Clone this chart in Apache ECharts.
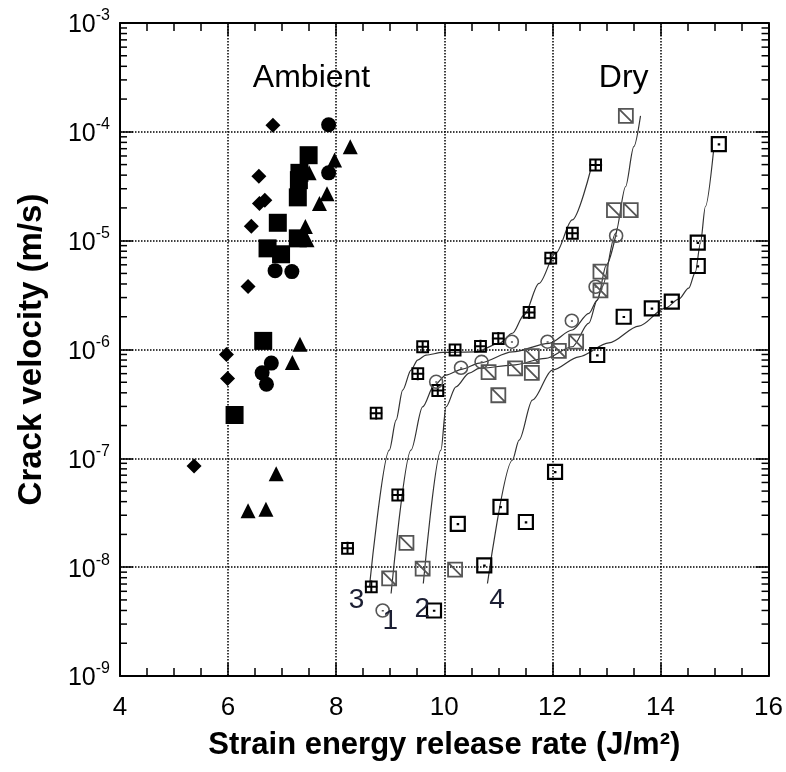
<!DOCTYPE html>
<html><head><meta charset="utf-8">
<script src="https://cdn.jsdelivr.net/npm/echarts@6/dist/echarts.min.js"></script>
<style>html,body{margin:0;padding:0;background:#fff}#c{width:786px;height:772px}</style>
</head><body><div id="c"></div>
<script>
// ---------- data (x: strain energy release rate J/m^2, y: crack velocity m/s) ----------
const ambientDiamonds = [[6.83,1.15e-4],[6.57,3.9e-5],[6.58,2.2e-5],[6.68,2.35e-5],[6.43,1.36e-5],[6.37,3.8e-6],[5.97,9.0e-7],[5.99,5.4e-7],[5.37,8.5e-8]];
const ambientSquares = [[7.49,6.1e-5],[7.32,4.2e-5],[7.31,3.6e-5],[7.29,2.5e-5],[6.92,1.46e-5],[7.29,1.05e-5],[6.73,8.5e-6],[6.98,7.5e-6],[6.65,1.2e-6],[6.12,2.5e-7]];
const ambientCircles = [[7.86,1.16e-4],[7.86,4.2e-5],[6.87,5.3e-6],[7.18,5.2e-6],[6.80,7.5e-7],[6.63,6.1e-7],[6.71,4.8e-7]];
const ambientTriangles = [[8.26,7.3e-5],[7.97,5.5e-5],[7.83,2.7e-5],[7.69,2.2e-5],[7.43,1.35e-5],[7.46,1.02e-5],[7.50,4.2e-5],[7.33,1.12e-6],[7.19,7.6e-7],[6.89,7.2e-8],[6.37,3.3e-8],[6.70,3.4e-8]];

const dry3Points = [[8.21,1.49e-8],[8.65,6.6e-9],[9.14,4.6e-8],[8.74,2.6e-7],[9.51,6.0e-7],[9.60,1.06e-6],[9.88,4.2e-7],[10.20,9.9e-7],[10.67,1.07e-6],[11.00,1.26e-6],[11.57,2.19e-6],[11.97,6.9e-6],[12.37,1.17e-5],[12.80,4.96e-5]];
const dry1Points = [[8.86,4.0e-9],[9.85,5.05e-7],[10.31,6.8e-7],[10.69,7.7e-7],[11.25,1.18e-6],[11.91,1.18e-6],[12.36,1.84e-6],[12.80,3.77e-6],[13.18,1.11e-5]];
const dry2Points = [[8.98,7.9e-9],[9.30,1.67e-8],[9.60,9.7e-9],[10.20,9.5e-9],[10.82,6.2e-7],[11.00,3.8e-7],[11.31,6.7e-7],[11.62,8.7e-7],[11.62,6.1e-7],[12.12,9.7e-7],[12.44,1.18e-6],[12.89,3.5e-6],[12.89,5.2e-6],[13.14,1.91e-5],[13.45,1.91e-5],[13.36,1.40e-4]];
const dry4Points = [[9.81,4.0e-9],[10.25,2.5e-8],[10.74,1.04e-8],[11.04,3.58e-8],[11.51,2.6e-8],[12.05,7.5e-8],[12.83,8.9e-7],[13.32,2.0e-6],[13.84,2.39e-6],[14.21,2.75e-6],[14.69,5.85e-6],[14.69,9.6e-6],[15.08,7.7e-5]];

const curve3 = [[8.615,6.6e-9],[8.984,1.19e-7],[9.108,2.24e-7],[9.23,4.24e-7],[9.385,6.47e-7],[9.507,8.0e-7],[9.662,8.89e-7],[9.968,9.4e-7],[10.585,9.5e-7],[11.015,1.14e-6],[11.26,1.41e-6],[11.476,2.07e-6],[11.753,4.05e-6],[12.062,7.64e-6],[12.368,1.55e-5],[12.708,4.46e-5]];
const curve1 = [[9.016,5.73e-9],[9.385,1.19e-7],[9.599,2.97e-7],[9.815,4.71e-7],[10.031,5.82e-7],[10.338,6.61e-7],[10.646,7.5e-7],[11.26,9.5e-7],[11.938,1.14e-6],[12.368,1.51e-6],[12.676,2.15e-6],[12.83,2.84e-6],[13.0,6.0e-6],[13.2,1.3e-5]];
const curve2 = [[9.612,7.08e-9],[9.939,1.19e-7],[10.031,2.97e-7],[10.216,4.54e-7],[10.461,6.07e-7],[10.646,6.7e-7],[11.26,7.19e-7],[11.877,8.28e-7],[12.368,1.06e-6],[12.676,1.75e-6],[12.83,2.84e-6],[12.922,3.77e-6],[13.169,1.17e-5],[13.354,3.13e-5],[13.507,7.3e-5],[13.631,1.40e-4]];
const curve4 = [[10.799,7.08e-9],[11.26,9.6e-8],[11.384,1.47e-7],[11.63,3.43e-7],[11.999,6.47e-7],[12.492,8.57e-7],[13.045,1.15e-6],[13.599,1.64e-6],[14.092,2.4e-6],[14.338,2.9e-6],[14.523,3.66e-6],[14.646,5.14e-6],[14.739,9.44e-6],[14.831,2.05e-5],[14.984,6.8e-5]];

const regionLabels = [{text:'Ambient', pos:[7.544,3.12e-4]},{text:'Dry', pos:[13.32,3.12e-4]}];
const curveLabels = [{text:'3', pos:[8.375,5.0e-9]},{text:'1', pos:[9.003,3.2e-9]},{text:'2', pos:[9.593,4.1e-9]},{text:'4', pos:[10.978,5.0e-9]}];

const xMin = 4, xMax = 16, xInterval = 2;
const yMin = 1e-9, yMax = 1e-3;
const minorMantissas = [2,3,4,5,6,7,8,9];
const minorDecades = [1e-9,1e-8,1e-7,1e-6,1e-5,1e-4];

// ---------- chart ----------
const FONT = 'Liberation Sans, Arial, sans-serif';
const minorTicks = [];
minorDecades.forEach(d => minorMantissas.forEach(m => minorTicks.push([xMin, m * d])));

const P_GRID = 'path://M0,0H10V10H0Z M5,-1V11 M-1,5H11';
const P_DIAG = 'path://M0,0H10V10H0Z M0,0L10,10';
const P_DOT  = 'path://M0,0H10V10H0Z M4.2,5.2H6';
const P_CIRC = 'path://M0,5A5,5 0 1 1 10,5A5,5 0 1 1 0,5Z M4.3,5.2H5.9';

function hollow(name, data, path, color, bw, size){
  return {name, type:'scatter', data, symbol:path, symbolSize:size, symbolKeepAspect:true, z:5,
    itemStyle:{color:'rgba(0,0,0,0)', borderColor:color, borderWidth:bw, opacity:1}};
}
function filled(name, data, sym, size){
  return {name, type:'scatter', data, symbol:sym, symbolSize:size, z:4, itemStyle:{color:'#000', opacity:1}};
}
function curve(name, data){
  return {name, type:'line', data, showSymbol:false, smooth:0.3, smoothMonotone:'x', z:3,
    lineStyle:{color:'#333', width:1.2}};
}
function textSeries(name, items, size, color){
  return {type:'scatter', name, symbolSize:1, silent:true, z:6,
    itemStyle:{color:'rgba(0,0,0,0)', opacity:1},
    data:items.map(d => ({value:d.pos, label:{show:true, formatter:d.text}})),
    label:{position:'inside', fontSize:size, color, opacity:1, fontFamily:FONT}};
}

const chart = echarts.init(document.getElementById('c'), null, {renderer:'canvas'});
chart.setOption({
  animation:false,
  backgroundColor:'#fff',
  textStyle:{fontFamily:FONT},
  grid:{left:120, right:16, top:23, bottom:96, containLabel:false},
  xAxis:[{
    type:'value', min:xMin, max:xMax, interval:xInterval, position:'bottom',
    name:'Strain energy release rate (J/m²)', nameLocation:'middle', nameGap:54,
    nameTextStyle:{fontSize:31, fontWeight:'bold', color:'#000', fontFamily:FONT},
    axisLine:{show:true, lineStyle:{color:'#000', width:2}},
    axisTick:{show:true, inside:true, length:13, lineStyle:{color:'#000', width:1.5}},
    minorTick:{show:true, splitNumber:4, length:8, lineStyle:{color:'#000', width:1.5}},
    axisLabel:{fontSize:26, color:'#000', margin:19, fontFamily:FONT},
    splitLine:{show:true, lineStyle:{color:'#000', width:1.5, type:[1.5,1.5]}}
  },{
    type:'value', min:xMin, max:xMax, interval:xInterval, position:'top',
    axisLine:{show:true, onZero:false, lineStyle:{color:'#000', width:2}},
    axisTick:{show:true, inside:true, length:13, lineStyle:{color:'#000', width:1.5}},
    minorTick:{show:true, splitNumber:4, length:8, lineStyle:{color:'#000', width:1.5}},
    axisLabel:{show:false}, splitLine:{show:false}
  }],
  yAxis:[{
    type:'log', logBase:10, min:yMin, max:yMax, splitNumber:6, position:'left',
    name:'Crack velocity (m/s)', nameLocation:'middle', nameGap:72,
    nameTextStyle:{fontSize:33, fontWeight:'bold', color:'#000', fontFamily:FONT},
    axisLine:{show:true, lineStyle:{color:'#000', width:2}},
    axisTick:{show:true, inside:true, length:13, lineStyle:{color:'#000', width:1.5}},
    axisLabel:{margin:10, color:'#000',
      formatter: v => '{b|10}{s|' + Math.round(Math.log10(v)) + '}',
      rich:{b:{fontSize:25, fontFamily:FONT, color:'#000', lineHeight:30, verticalAlign:'bottom'},
            s:{fontSize:16, fontFamily:FONT, color:'#000', lineHeight:30, verticalAlign:'top'}}},
    splitLine:{show:true, lineStyle:{color:'#000', width:1.5, type:[1.5,1.5]}}
  },{
    type:'log', logBase:10, min:yMin, max:yMax, splitNumber:6, position:'right',
    axisLine:{show:true, onZero:false, lineStyle:{color:'#000', width:2}},
    axisTick:{show:true, inside:true, length:13, lineStyle:{color:'#000', width:1.5}},
    axisLabel:{show:false}, splitLine:{show:false}
  }],
  series:[
    {type:'custom', name:'minorTicks', data:minorTicks, encode:{x:0,y:1}, silent:true, clip:false, z:2,
      renderItem:function(params, api){
        const v = api.value(1);
        const pl = api.coord([xMin, v]), pr = api.coord([xMax, v]);
        return {type:'group', children:[
          {type:'line', shape:{x1:pl[0], y1:pl[1], x2:pl[0]+7, y2:pl[1]}, style:{stroke:'#000', lineWidth:1.5}},
          {type:'line', shape:{x1:pr[0]-7, y1:pr[1], x2:pr[0], y2:pr[1]}, style:{stroke:'#000', lineWidth:1.5}}
        ]};
      }},
    curve('curve3', curve3), curve('curve1', curve1), curve('curve2', curve2), curve('curve4', curve4),
    filled('ambientDiamonds', ambientDiamonds, 'diamond', 15),
    filled('ambientSquares', ambientSquares, 'rect', 18),
    filled('ambientCircles', ambientCircles, 'circle', 15),
    filled('ambientTriangles', ambientTriangles, 'triangle', 15),
    hollow('dry3', dry3Points, P_GRID, '#000', 2, 13),
    hollow('dry1', dry1Points, P_CIRC, '#555', 1.6, 13),
    hollow('dry2', dry2Points, P_DIAG, '#555', 1.8, 14),
    hollow('dry4', dry4Points, P_DOT, '#000', 2.2, 14),
    textSeries('regionLabels', regionLabels, 32, '#000'),
    textSeries('curveLabels', curveLabels, 28, '#1c1f33')
  ]
});
</script></body></html>
